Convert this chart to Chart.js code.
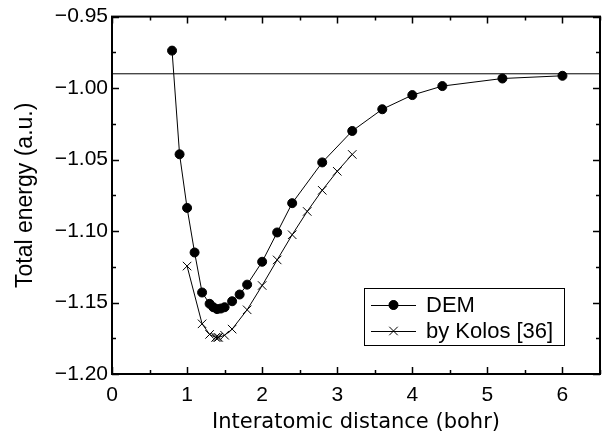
<!DOCTYPE html>
<html>
<head>
<meta charset="utf-8">
<script src="https://cdn.jsdelivr.net/npm/chart.js@4.4.1/dist/chart.umd.min.js"></script>
<style>
  html, body { margin: 0; padding: 0; background: #fff; }
  #wrap { width: 607px; height: 439px; }
</style>
</head>
<body>
<div id="wrap"><canvas id="chart"></canvas></div>
<script>
// DEM calculation
const demR = [0.8, 0.9, 1.0, 1.1, 1.2, 1.3, 1.35, 1.4, 1.45, 1.5, 1.6, 1.7, 1.8, 2.0, 2.2, 2.4, 2.8, 3.2, 3.6, 4.0, 4.4, 5.2, 6.0]
const demE = [-0.9738, -1.0463, -1.0838, -1.1150, -1.1430, -1.1509, -1.1533, -1.1546, -1.1542, -1.1533, -1.1491, -1.1444, -1.1375,
  -1.1215, -1.1010, -1.0805, -1.0520, -1.0300, -1.0148, -1.0049, -0.9986, -0.9933, -0.9914]

// Kolos reference values
const kolosR = [1.0, 1.2, 1.3, 1.38, 1.4, 1.42, 1.5, 1.6, 1.8, 2.0, 2.2, 2.4, 2.6, 2.8, 3.0, 3.2]
const kolosE = [-1.1245, -1.1649, -1.1723, -1.1744, -1.1745, -1.1744, -1.1729, -1.1686, -1.1551, -1.1381, -1.1202, -1.1026,
  -1.0863, -1.0715, -1.0582, -1.0464]

// horizontal reference line
const limitR = [0, 6.5]
const limitE = [-0.99, -0.99]

const xTicks = [0, 1, 2, 3, 4, 5, 6]
const seriesNames = ['DEM', 'by Kolos [36]']

const pts = (xs, ys) => xs.map((x, i) => ({ x: x, y: ys[i] }))

const frame = {
  id: 'frame',
  afterDatasetsDraw(chart) {
    const ctx = chart.ctx
    const a = chart.chartArea
    const xs = chart.scales.x
    const ys = chart.scales.y
    ctx.save()
    ctx.strokeStyle = '#000'
    ctx.lineWidth = 1.5
    ctx.beginPath()
    for (let i = 0; i <= 13; i++) {
      const px = Math.round(xs.getPixelForValue(i * 0.5)) + 0.5
      const len = i % 2 === 0 ? 7 : 4
      ctx.moveTo(px, a.bottom); ctx.lineTo(px, a.bottom - len)
      ctx.moveTo(px, a.top); ctx.lineTo(px, a.top + len)
    }
    for (let j = 0; j <= 10; j++) {
      const py = Math.round(ys.getPixelForValue(-1.2 + j * 0.025)) + 0.5
      const len = j % 2 === 0 ? 7 : 4
      ctx.moveTo(a.left, py); ctx.lineTo(a.left + len, py)
      ctx.moveTo(a.right, py); ctx.lineTo(a.right - len, py)
    }
    ctx.stroke()
    ctx.lineWidth = 2
    ctx.strokeRect(a.left, a.top, a.right - a.left, a.bottom - a.top)
    ctx.restore()
  },
  afterDraw(chart) {
    const ctx = chart.ctx
    const a = chart.chartArea
    const bx = a.right - 236, by = a.bottom - 86, bw = 200, bh = 57
    ctx.save()
    ctx.fillStyle = '#fff'
    ctx.fillRect(bx, by, bw, bh)
    ctx.strokeStyle = '#000'
    ctx.lineWidth = 1
    ctx.strokeRect(bx + 0.5, by + 0.5, bw, bh)
    ctx.font = '22px "Liberation Sans", Arial, sans-serif'
    ctx.textBaseline = 'middle'
    ctx.fillStyle = '#000'
    seriesNames.forEach((name, i) => {
      const cy = by + 17 + i * 26
      const x0 = bx + 7, x1 = bx + 52, cx = (x0 + x1) / 2
      ctx.beginPath()
      ctx.moveTo(x0, cy + 0.5); ctx.lineTo(x1, cy + 0.5)
      ctx.stroke()
      const ds = chart.data.datasets[i]
      Chart.helpers.drawPoint(ctx, {
        pointStyle: ds.pointStyle, radius: ds.pointRadius, borderWidth: ds.borderWidth, rotation: 0
      }, cx, cy)
      if (ds.pointStyle === 'circle') { ctx.fill() }
      ctx.fillText(name, bx + 62, cy + 1)
    })
    ctx.restore()
  }
}

new Chart(document.getElementById('chart'), {
  type: 'scatter',
  data: {
    datasets: [
      {
        label: seriesNames[0],
        data: pts(demR, demE),
        showLine: true,
        borderColor: '#000',
        backgroundColor: '#000',
        borderWidth: 1,
        pointStyle: 'circle',
        pointRadius: 4.5,
        pointHoverRadius: 4.5
      },
      {
        label: seriesNames[1],
        data: pts(kolosR, kolosE),
        showLine: true,
        borderColor: '#000',
        backgroundColor: '#000',
        borderWidth: 1,
        pointStyle: 'crossRot',
        pointRadius: 6,
        pointHoverRadius: 6
      },
      {
        label: 'limit',
        data: pts(limitR, limitE),
        showLine: true,
        borderColor: '#000',
        borderWidth: 1,
        pointRadius: 0
      }
    ]
  },
  options: {
    responsive: true,
    maintainAspectRatio: false,
    animation: false,
    layout: { padding: { top: 12, right: 5, left: 0, bottom: 0 } },
    plugins: {
      legend: { display: false },
      tooltip: { enabled: false }
    },
    scales: {
      x: {
        type: 'linear',
        min: 0,
        max: 6.5,
        afterFit: s => { s.height = 65 },
        afterBuildTicks: s => { s.ticks = xTicks.map(v => ({ value: v })) },
        grid: { display: false, drawTicks: false },
        border: { display: false },
        ticks: {
          color: '#000',
          padding: 9,
          maxRotation: 0,
          font: { family: '"Liberation Sans", Arial, sans-serif', size: 21 },
          callback: v => String(v)
        },
        title: {
          display: true,
          text: 'Interatomic distance (bohr)',
          color: '#000',
          padding: { top: 0, bottom: 4 },
          font: { family: '"DejaVu Sans", sans-serif', size: 21 }
        }
      },
      y: {
        type: 'linear',
        min: -1.2,
        max: -0.95,
        afterFit: s => { s.width = 112 },
        grid: { display: false, drawTicks: false },
        border: { display: false },
        ticks: {
          color: '#000',
          stepSize: 0.05,
          padding: 4,
          font: { family: '"Liberation Sans", Arial, sans-serif', size: 21 },
          callback: v => '\u2212' + Math.abs(v).toFixed(2)
        },
        title: {
          display: true,
          text: 'Total energy (a.u.)',
          color: '#000',
          padding: { top: 12, bottom: 0 },
          font: { family: '"Liberation Sans", Arial, sans-serif', size: 23 }
        }
      }
    }
  },
  plugins: [frame]
})
</script>
</body>
</html>
